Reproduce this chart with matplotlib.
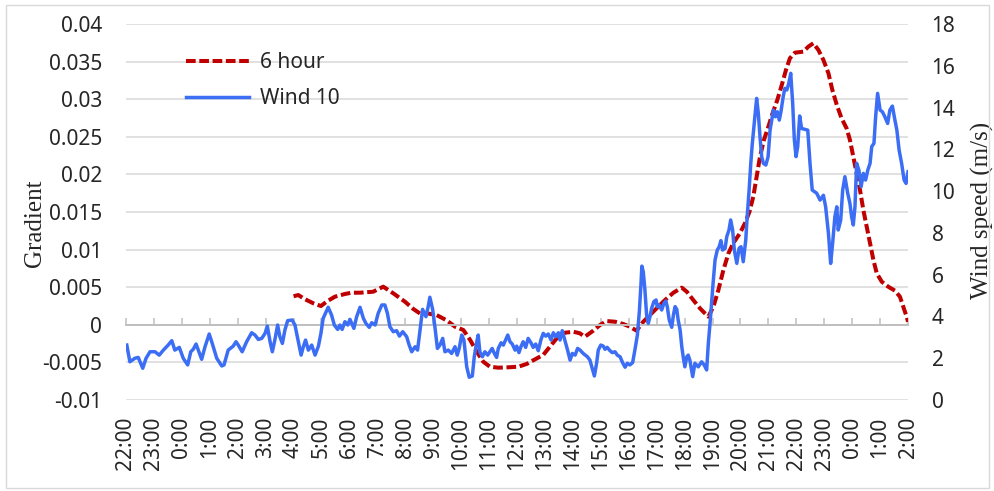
"""Recreate the 6-hour gradient vs. 10 m wind speed chart."""

import matplotlib

matplotlib.use("Agg")
import matplotlib.pyplot as plt
from matplotlib.patches import Rectangle


# hours after 22:00 on the first day
wind_hours = [
    0.03, 0.14, 0.32, 0.44, 0.60, 0.72, 0.86, 1.04, 1.19, 1.34, 1.51, 1.64, 1.75, 1.91,
    2.05, 2.21, 2.32, 2.41, 2.51, 2.59, 2.71, 2.83, 2.98, 3.07, 3.25, 3.43, 3.51, 3.66,
    3.84, 3.94, 4.02, 4.16, 4.32, 4.50, 4.62, 4.74, 4.86, 4.98, 5.06, 5.16, 5.24, 5.33,
    5.43, 5.51, 5.60, 5.69, 5.79, 5.95, 6.05, 6.17, 6.27, 6.35, 6.43, 6.53, 6.65, 6.77,
    6.89, 6.98, 7.06, 7.24, 7.36, 7.46, 7.58, 7.66, 7.74, 7.84, 7.94, 8.02, 8.16, 8.26,
    8.38, 8.50, 8.59, 8.71, 8.80, 8.92, 9.03, 9.16, 9.27, 9.36, 9.45, 9.57, 9.69, 9.79,
    9.91, 10.05, 10.14, 10.23, 10.35, 10.44, 10.53, 10.62, 10.74, 10.82, 10.88, 10.98,
    11.06, 11.15, 11.24, 11.34, 11.42, 11.54, 11.66, 11.78, 11.86, 11.93, 12.02, 12.10,
    12.20, 12.29, 12.40, 12.47, 12.56, 12.61, 12.67, 12.76, 12.85, 12.95, 13.03, 13.11,
    13.19, 13.27, 13.33, 13.43, 13.51, 13.59, 13.67, 13.75, 13.83, 13.93, 13.99, 14.07,
    14.14, 14.22, 14.31, 14.40, 14.50, 14.58, 14.67, 14.76, 14.86, 14.94, 15.03, 15.12,
    15.22, 15.30, 15.39, 15.48, 15.54, 15.62, 15.72, 15.81, 15.90, 15.98, 16.08, 16.17,
    16.25, 16.37, 16.52, 16.61, 16.71, 16.77, 16.85, 16.91, 17.00, 17.09, 17.15, 17.23,
    17.33, 17.41, 17.51, 17.59, 17.69, 17.78, 17.87, 17.95, 18.04, 18.14, 18.22, 18.31,
    18.38, 18.44, 18.47, 18.52, 18.58, 18.64, 18.70, 18.76, 18.82, 18.90, 18.98, 19.02,
    19.09, 19.18, 19.26, 19.33, 19.38, 19.45, 19.54, 19.60, 19.66, 19.72, 19.77, 19.84,
    19.90, 19.95, 20.01, 20.08, 20.13, 20.19, 20.29, 20.37, 20.49, 20.61, 20.70, 20.79,
    20.85, 20.93, 21.01, 21.09, 21.17, 21.24, 21.30, 21.36, 21.45, 21.51, 21.59, 21.65,
    21.72, 21.78, 21.87, 21.95, 22.02, 22.10, 22.19, 22.24, 22.31, 22.37, 22.42, 22.48,
    22.55, 22.58, 22.64, 22.70, 22.76, 22.82, 22.91, 22.99, 23.06, 23.12, 23.18, 23.25,
    23.32, 23.39, 23.45, 23.53, 23.59, 23.66, 23.73, 23.80, 23.87, 23.93, 23.99, 24.05,
    24.12, 24.19, 24.41, 24.49, 24.57, 24.73, 24.85, 24.97, 25.05, 25.15, 25.23, 25.30,
    25.38, 25.45, 25.50, 25.59, 25.66, 25.74, 25.84, 25.92, 25.98, 26.04, 26.10, 26.16,
    26.24, 26.32, 26.40, 26.48, 26.56, 26.64, 26.70, 26.78, 26.84, 26.91, 27.00, 27.08,
    27.17, 27.27, 27.35, 27.44, 27.53, 27.60, 27.68, 27.77, 27.86, 27.93, 28.00,
]
wind_speed = [
    2.63, 1.83, 2.00, 2.04, 1.52, 2.00, 2.31, 2.31, 2.15, 2.39, 2.63, 2.84, 2.39, 2.52,
    2.00, 1.68, 2.31, 2.43, 2.68, 2.39, 1.95, 2.55, 3.16, 2.79, 2.00, 1.63, 1.68, 2.39,
    2.58, 2.79, 2.63, 2.31, 2.79, 3.22, 3.11, 2.90, 2.95, 3.19, 3.54, 2.79, 2.31, 2.87,
    3.59, 3.03, 2.71, 3.35, 3.80, 3.83, 3.59, 2.79, 2.15, 2.55, 2.87, 2.39, 2.63, 2.15,
    2.58, 3.19, 3.91, 4.44, 4.07, 3.59, 3.38, 3.59, 3.38, 3.75, 3.59, 3.86, 3.43, 3.99,
    4.44, 3.91, 3.67, 3.48, 3.70, 3.59, 4.15, 4.55, 4.55, 4.15, 3.51, 3.27, 3.32, 3.06,
    3.27, 3.03, 2.63, 2.31, 2.55, 2.39, 3.35, 4.34, 3.99, 4.47, 4.92, 4.34,
    3.51, 2.47, 2.63, 2.95, 2.31, 2.39, 2.23, 2.55, 2.15, 2.47, 3.11, 2.87,
    1.59, 1.09, 1.15, 2.07, 2.79, 3.11, 2.31, 2.07, 2.31, 2.15, 2.31, 2.47,
    2.23, 2.04, 2.47, 2.74, 2.63, 2.87, 3.11, 2.79, 2.68, 2.39, 2.58, 2.27,
    2.55, 2.79, 2.52, 2.95, 2.74, 2.52, 2.68, 2.36, 2.90, 3.19, 3.06, 3.16,
    2.87, 3.22, 3.03, 3.22, 2.87, 3.32, 2.84, 2.39, 1.91, 2.23, 2.15, 2.47,
    2.40, 2.23, 2.07, 1.91, 1.44, 1.15, 1.76, 2.39, 2.63, 2.58, 2.43, 2.52,
    2.36, 2.27, 2.31, 2.15, 2.07, 1.79, 1.57, 1.76, 1.68, 1.79, 2.39, 3.11,
    4.23, 5.59, 6.41, 6.14, 5.27, 4.07, 3.67, 3.99, 4.39, 4.71, 4.79, 4.47,
    4.55, 4.31, 4.63, 4.74, 4.47, 3.83, 3.48, 4.07, 4.47, 4.34, 3.83, 3.35,
    2.55, 2.07, 1.59, 2.07, 2.15, 1.90, 1.12, 1.76, 1.59, 1.83, 1.68, 1.44,
    2.71, 3.99, 5.42, 6.70, 7.18, 7.34, 7.63, 7.18, 7.26, 7.82, 8.14, 8.62,
    8.14, 7.18, 6.54, 7.26, 7.34, 6.62, 7.66, 8.77, 10.05, 11.33, 12.21, 13.08,
    14.04, 14.44, 13.72, 12.60, 11.65, 11.33, 11.25, 11.65, 12.92, 13.40, 13.88, 13.56,
    13.80, 13.40, 13.80, 14.52, 14.92, 14.84, 15.16, 15.64, 14.20, 12.45, 11.65, 12.13,
    13.60, 13.00, 12.92, 11.33, 10.05, 9.90, 9.57, 9.80, 9.25, 7.98, 6.54, 7.50,
    8.77, 9.25, 8.14, 8.62, 10.05, 10.69, 9.90, 9.41, 8.77, 8.38, 9.25, 11.33,
    11.01, 10.21, 10.85, 10.53, 11.01, 11.33, 12.13, 12.29, 13.56, 14.68, 13.88, 13.80,
    13.56, 13.24, 13.88, 14.07, 13.40, 12.92, 11.97, 11.33, 10.53, 10.37, 10.93,
]

grad_hours = [
    6.00, 6.17, 6.41, 6.71, 6.98, 7.19, 7.48, 7.84, 8.08, 8.38, 8.85, 9.21, 9.57, 9.99,
    10.29, 10.53, 10.82, 11.12, 11.48, 11.78, 12.08, 12.32, 12.56, 12.79, 13.03, 13.33,
    13.69, 14.05, 14.35, 14.64, 14.94, 15.18, 15.42, 15.72, 16.02, 16.25, 16.43, 16.73,
    16.97, 17.21, 17.51, 17.81, 18.04, 18.28, 18.52, 18.76, 19.00, 19.30, 19.60, 19.90,
    20.08, 20.31, 20.55, 20.67, 20.85, 21.03, 21.21, 21.39, 21.57, 21.74, 21.98, 22.16,
    22.32, 22.46, 22.58, 22.70, 22.84, 23.00, 23.15, 23.32, 23.48, 23.63, 23.77, 23.95,
    24.25, 24.43, 24.61, 24.79, 24.97, 25.15, 25.29, 25.45, 25.62, 25.80, 25.92, 26.04,
    26.16, 26.28, 26.40, 26.52, 26.64, 26.76, 26.88, 27.06, 27.29, 27.53, 27.71, 27.83,
    27.95, 28.00,
]
grad_6h = [
    0.0038, 0.00396, 0.0034, 0.00286, 0.0025, 0.0031, 0.00374, 0.0041, 0.00427, 0.00427,
    0.0044, 0.00507, 0.00419, 0.00307, 0.0021, 0.0015, 0.0015, 0.0013, 0.0006, -0.00025,
    -0.00069, -0.002, -0.00358, -0.0049, -0.00557, -0.0057, -0.00565, -0.00557, -0.0052,
    -0.0046, -0.004, -0.0029, -0.0018, -0.00105, -0.00092, -0.00113, -0.00158, -0.00078,
    -0.00003, 0.0005, 0.00041, 0.0001, -0.00025, -0.00078, 0.00041, 0.0013, 0.0022,
    0.0033, 0.00427, 0.00494, 0.0044, 0.0033, 0.0022, 0.00174, 0.00108, 0.0024, 0.00463,
    0.0073, 0.0095, 0.01084, 0.01217, 0.0135, 0.0150, 0.01704, 0.0197, 0.02236, 0.02458,
    0.02635, 0.02813, 0.0299, 0.0319, 0.03389, 0.03544, 0.03619, 0.03632, 0.03699,
    0.03744, 0.03655, 0.03522, 0.03345, 0.03123, 0.02923, 0.02746, 0.02613, 0.02458,
    0.02236, 0.02015, 0.01793, 0.01527, 0.01305, 0.01084, 0.00862, 0.00685, 0.00573,
    0.00507, 0.00454, 0.00374, 0.0024, 0.00108, 0.0004,
]

tick_hours = list(range(29))
tick_labels = [f"{(22 + h) % 24}:00" for h in tick_hours]
grad_ticks = [-0.01, -0.005, 0, 0.005, 0.01, 0.015, 0.02, 0.025, 0.03, 0.035, 0.04]
grad_labels = ["-0.01", "-0.005", "0", "0.005", "0.01", "0.015", "0.02", "0.025",
               "0.03", "0.035", "0.04"]
speed_ticks = list(range(0, 19, 2))


def main() -> None:
    plt.rcParams["font.family"] = ["Noto Sans", "DejaVu Sans"]
    text_color = "#262626"
    grid_color = "#d9d9d9"
    axis_color = "#bfbfbf"

    fig = plt.figure(figsize=(9.95, 4.91), dpi=100)
    ax = fig.add_axes([0.1266, 0.1853, 0.786, 0.7658])
    ax2 = ax.twinx()

    ax.plot(grad_hours, grad_6h, color="#c00000", linewidth=2.9,
            linestyle=(0, (2.4, 0.9)), label="6 hour")
    ax2.plot(wind_hours, wind_speed, color="#3b6ef5", linewidth=2.5, label="Wind 10")

    ax.set_xlim(0, 28)
    ax.set_ylim(-0.01, 0.04)
    ax2.set_ylim(0, 18)

    ax.set_yticks(grad_ticks, grad_labels)
    ax.grid(axis="y", color=grid_color, linewidth=1.1)
    ax.set_axisbelow(True)
    ax.tick_params(axis="y", length=0, pad=17, labelsize=15, labelcolor=text_color)
    ax2.set_yticks(speed_ticks)
    ax2.tick_params(axis="y", length=0, pad=17, labelsize=15, labelcolor=text_color)

    # category axis crosses at gradient 0, labels stay at the bottom
    ax.spines["bottom"].set_position(("data", 0))
    ax.spines["bottom"].set_color(axis_color)
    ax.spines["bottom"].set_linewidth(1.4)
    ax.set_xticks(tick_hours)
    ax.tick_params(axis="x", direction="in", length=5, width=1.1, color=axis_color,
                   labelbottom=False)
    for name in ("left", "right", "top"):
        ax.spines[name].set_visible(False)
    for spine in ax2.spines.values():
        spine.set_visible(False)

    sec = ax.secondary_xaxis("bottom")
    sec.set_ticks(tick_hours, labels=tick_labels)
    sec.tick_params(length=0, pad=12, labelsize=15, labelcolor=text_color, labelrotation=90)
    sec.spines["bottom"].set_visible(False)

    ax.set_ylabel("Gradient", family="Liberation Serif", fontsize=18, color=text_color,
                  va="center")
    ax.yaxis.set_label_coords(-0.1164, 0.47)
    ax2.set_ylabel("Wind speed (m/s)", family="Liberation Serif", fontsize=18,
                   color=text_color, va="center", rotation=90)
    ax2.yaxis.set_label_coords(1.0946, 0.503)

    handles1, labels1 = ax.get_legend_handles_labels()
    handles2, labels2 = ax2.get_legend_handles_labels()
    ax2.legend(handles1 + handles2, labels1 + labels2, loc="upper left",
               bbox_to_anchor=(0.077, 0.925), frameon=False, handlelength=3,
               handletextpad=0.55, borderpad=0, borderaxespad=0, labelspacing=0.72,
               fontsize=15, labelcolor=text_color)

    fig.add_artist(Rectangle((0.006, 0.006), 0.988, 0.984, transform=fig.transFigure,
                             fill=False, edgecolor=grid_color, linewidth=1.0))

    fig.savefig("out.png", dpi=100)
    plt.close(fig)


if __name__ == "__main__":
    main()
